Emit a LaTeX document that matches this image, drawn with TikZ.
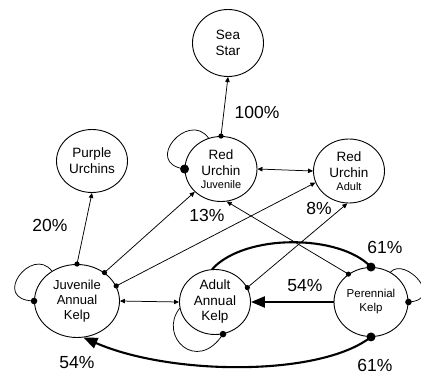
\documentclass[tikz,border=0pt]{standalone}
\usepackage{fontspec}
\setmainfont{Liberation Sans}
\usetikzlibrary{arrows.meta,shapes.geometric}
\begin{document}
\begin{tikzpicture}[x=1pt,y=-1pt,
  state/.style={draw,ellipse,line width=0.9pt,inner sep=0pt,align=center},
  lnk/.style={line width=0.75pt},
  heavy/.style={line width=2.1pt},
  sa/.style={-{Triangle[length=5pt,width=4.5pt]}},
  dsa/.style={{Triangle[length=5pt,width=4.5pt]}-{Triangle[length=5pt,width=4.5pt]}},
  ba/.style={-{Triangle[length=14pt,width=11pt]}},
  lbl/.style={font=\fontsize{17.5}{20}\selectfont},
  f135/.style={font=\fontsize{13.5}{16}\selectfont}
]
\useasboundingbox (0,0) rectangle (421,375);

% nodes
\node[state,f135,minimum width=71pt,minimum height=67pt] (ss) at (228,43) {Sea\\Star};
\node[state,f135,minimum width=71pt,minimum height=63pt] (pu) at (92,161) {Purple\\Urchins};
\node[state,minimum width=72pt,minimum height=65pt,font=\fontsize{13.5}{16}\selectfont] (ruj) at (221,169)
  {Red\\Urchin\\[-3pt]{\fontsize{11}{12}\selectfont Juvenile}};
\node[state,minimum width=71pt,minimum height=64pt,font=\fontsize{13.5}{16}\selectfont] (rua) at (349,171)
  {Red\\Urchin\\[-3pt]{\fontsize{11}{12}\selectfont Adult}};
\node[state,minimum width=85pt,minimum height=73pt,font=\fontsize{13}{15}\selectfont] (jak) at (77,301)
  {Juvenile\\Annual\\Kelp};
\node[state,minimum width=71pt,minimum height=65pt,font=\fontsize{13.5}{15.5}\selectfont] (aak) at (215,302)
  {Adult\\Annual\\Kelp};
\node[state,minimum width=74pt,minimum height=69pt,font=\fontsize{11.5}{14}\selectfont] (pk) at (371,302)
  {Perennial\\Kelp};

% thin connectors
\draw[lnk,sa] (ruj.90) -- (ss.-90);
\draw[lnk,dsa] (ruj.east) -- (rua.west);
\draw[lnk,sa] (jak.90) -- (pu.-90);
\draw[lnk,sa] (jak.46) -- (ruj.221);
\draw[lnk,sa] (jak.21) -- (rua.199);
\draw[lnk,dsa] (jak.east) -- (aak.west);
\draw[lnk,sa] (aak.24) -- (rua.267);
\draw[lnk,sa] (pk.129) -- (ruj.280);

% self loops
\draw[lnk] (ruj.112) .. controls +(-20,-28) and +(-42,-6) .. (ruj.180);
\draw[lnk] (jak.130) .. controls +(-20,-26) and +(-44,-1) .. (jak.180);
\draw[lnk] (pk.57) .. controls +(15,-16) and +(37,-2) .. (pk.0);
\draw[lnk] (aak.190) .. controls +(-22,28) and +(-26,40) .. (aak.284);

% heavy connectors
\draw[heavy,ba] (pk.west) -- (aak.east);
\draw[heavy] (pk.90) .. controls +(-31,-33) and +(33,-36) .. (aak.95);
\draw[heavy,ba] (pk.270) .. controls +(-51,40) and +(87,38) .. (jak.280);

% dots
\fill (ruj.90) circle (2.6pt);
\fill (ruj.180) circle (4.5pt);
\fill (jak.90) circle (2.6pt);
\fill (jak.46) circle (2.6pt);
\fill (jak.21) circle (2.6pt);
\fill (jak.180) circle (3.3pt);
\fill (aak.24) circle (2.6pt);
\fill (aak.284) circle (3.3pt);
\fill (pk.129) circle (2.6pt);
\fill (pk.0) circle (3.3pt);
\fill (pk.90) circle (4.5pt);
\fill (pk.270) circle (4.5pt);

% labels
\node[lbl] (l100) at (257,112) {100\%};
\node[lbl] (l20) at (50,225) {20\%};
\node[lbl] (l13) at (207,215) {13\%};
\node[lbl] (l8) at (319,208) {8\%};
\node[lbl] (l61a) at (385,247) {61\%};
\node[lbl] (l54a) at (305,286) {54\%};
\node[lbl] (l54b) at (77,363) {54\%};
\node[lbl] (l61b) at (375,365) {61\%};
\end{tikzpicture}
\end{document}
